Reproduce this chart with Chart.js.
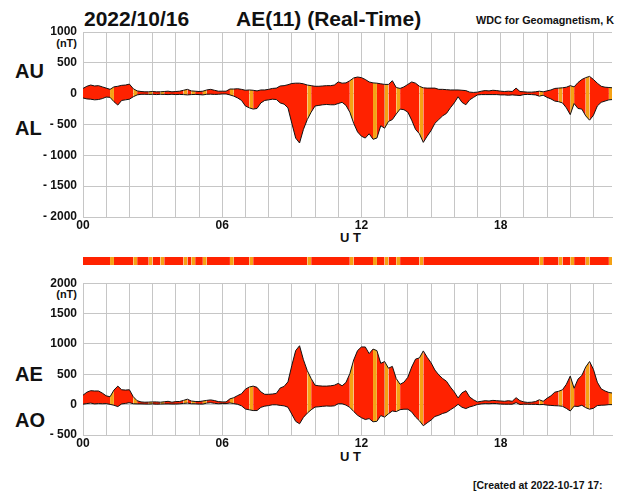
<!DOCTYPE html>
<html>
<head>
<meta charset="utf-8">
<script src="https://cdn.jsdelivr.net/npm/chart.js@4.4.0/dist/chart.umd.min.js"></script>
<style>
  body {
    margin: 0;
    width: 624px;
    height: 495px;
    position: relative;
    overflow: hidden;
    background: #fff;
    font-family: 'Liberation Sans', Arial, sans-serif;
    font-weight: bold;
    color: #111;
  }
  canvas { position: absolute; left: 0; }
  .txt { position: absolute; white-space: nowrap; line-height: 1; }
</style>
</head>
<body>
<div class="txt" style="left:84px; top:8px; font-size:21px;">2022/10/16</div>
<div class="txt" style="left:236px; top:8px; font-size:21px;">AE(11) (Real-Time)</div>
<div class="txt" style="left:476px; top:15px; font-size:10.8px;">WDC for Geomagnetism, K</div>

<div class="txt" style="left:15px; top:61px; font-size:20px;">AU</div>
<div class="txt" style="left:15px; top:118px; font-size:20px;">AL</div>
<div class="txt" style="right:547px; top:38px; font-size:11px;">(nT)</div>
<div class="txt" style="left:340px; top:231px; font-size:13px;">U T</div>

<div class="txt" style="left:15px; top:364px; font-size:20px;">AE</div>
<div class="txt" style="left:15px; top:410px; font-size:20px;">AO</div>
<div class="txt" style="right:547px; top:289px; font-size:11px;">(nT)</div>
<div class="txt" style="left:340px; top:450px; font-size:13px;">U T</div>

<div class="txt" style="left:473px; top:480px; font-size:10.5px;">[Created at 2022-10-17 17:</div>

<canvas id="auAl" width="624" height="240" style="top:0px"></canvas>
<canvas id="status" width="624" height="12" style="top:255px"></canvas>
<canvas id="aeAo" width="624" height="210" style="top:270px"></canvas>

<script>
// 10-minute samples of the upper / lower envelope (nT), starting at 00:00 UT
const stepMinutes = 10;
const AU = [
  85, 120, 140, 125, 130, 110,
  90, 70, 110, 120, 135, 140,
  155, 80, 45, 35, 30, 30,
  35, 30, 30, 35, 40, 30,
  35, 40, 55, 70, 45, 40,
  35, 40, 60, 70, 55, 40,
  40, 40, 75, 75, 80, 70,
  55, 60, 55, 45, 60, 60,
  70, 85, 90, 125, 130, 145,
  165, 170, 170, 160, 140, 130,
  120, 120, 125, 130, 130, 140,
  190, 170, 175, 210, 255, 270,
  260, 230, 190, 175, 170, 160,
  150, 150, 210, 100, 85, 110,
  150, 190, 170, 120, 95, 90,
  90, 90, 70, 70, 65, 60,
  60, 60, 55, 50, 25, 20,
  25, 40, 50, 45, 55, 50,
  40, 35, 40, 35, 90, 35,
  30, 25, 25, 30, 40, 30,
  45, 60, 85, 90, 95, 105,
  130, 110, 180, 230, 260, 280,
  230, 170, 120, 105, 100, 95,
];
const AL = [
  -70, -85, -90, -100, -95, -80,
  -55, -60, -130, -185, -110, -100,
  -90, -50, -20, -10, -10, -12,
  -10, -15, -10, -12, -15, -10,
  -15, -12, -15, -20, -15, -12,
  -15, -20, -10, -8, -12, -10,
  -5, -5, -20, -40, -70, -110,
  -200, -230, -250, -240, -150, -110,
  -100, -90, -95, -150, -170, -230,
  -480, -720, -800, -580, -420, -300,
  -200, -190, -180, -175, -180, -180,
  -160, -140, -190, -300, -480, -620,
  -690, -720, -650, -740, -720, -520,
  -560, -450, -420, -330, -250, -260,
  -300, -430, -580, -650, -790, -690,
  -600, -480, -420, -360, -320, -230,
  -150, -50, -140, -180, -100, -60,
  -20, -15, -15, -15, -15, -15,
  -20, -20, -25, -20, -25, -30,
  -15, -12, -15, -20, -40, -25,
  -60, -85, -120, -130, -150, -230,
  -340, -160, -240, -250, -360, -430,
  -350, -200, -140, -120, -100, -95,
];
// times (UT hours) of the intervals flagged in the status bar
const stripeHours = [1.18, 2.33, 2.97, 3.38, 4.4, 4.78, 5.26, 6.36, 7.33, 9.76,
  11.55, 12.5, 13.12, 13.55, 14.53, 19.7, 20.65, 21.08, 21.7, 22.72];
const hourLabels = ['00', '06', '12', '18'];
const hourGrid = [0, 1, 2, 3, 4, 5, 6, 7, 8, 9, 10, 11, 12, 13, 14, 15, 16, 17, 18, 19, 20, 21, 22];

const RED = '#ff2200';
const ORANGE = '#f5a214';
const GRID = '#c6c6c6';
const INK = '#111';
const tickFont = { family: "'Liberation Sans', Arial, sans-serif", size: 12, weight: 'bold' };

const hours = AU.map((_, i) => (i * stepMinutes) / 60);
// AE = AU - AL, AO = (AU + AL) / 2
const AE = AU.map((u, i) => u - AL[i]);
const AO = AU.map((u, i) => (u + AL[i]) / 2);

const pairs = (values) => values.map((v, i) => ({ x: hours[i], y: v }));
const flagged = (x0, x1) => stripeHours.some((t) => t >= x0 && t < x1);
const stripeSegment = {
  backgroundColor: (ctx) => (flagged(ctx.p0.parsed.x, ctx.p1.parsed.x) ? ORANGE : undefined),
};

function xAxis(height) {
  return {
    type: 'linear',
    min: 0,
    max: 22.8,
    afterFit: (s) => { s.height = height; },
    afterBuildTicks: (s) => { s.ticks = hourGrid.map((h) => ({ value: h })); },
    grid: { color: GRID, drawTicks: false },
    border: { color: GRID },
    ticks: {
      autoSkip: false,
      maxRotation: 0,
      padding: 1,
      color: INK,
      font: tickFont,
      callback: (v) => (v % 6 === 0 ? hourLabels[v / 6] : ''),
    },
  };
}

function yAxis(min, max) {
  return {
    min,
    max,
    afterFit: (s) => { s.width = 83; },
    grid: { color: GRID, drawTicks: false },
    border: { color: GRID },
    ticks: {
      stepSize: 500,
      padding: 6,
      color: INK,
      font: tickFont,
      callback: (v) => (v < 0 ? `- ${-v}` : `${v}`),
    },
  };
}

function bandDatasets(upper, lower) {
  return [{
    data: pairs(upper),
    fill: '+1',
    backgroundColor: RED,
    borderColor: INK,
    borderWidth: 1,
    pointRadius: 0,
    tension: 0,
    segment: stripeSegment,
  }, {
    data: pairs(lower),
    fill: false,
    borderColor: INK,
    borderWidth: 1,
    pointRadius: 0,
    tension: 0,
  }];
}

const baseOptions = {
  responsive: false,
  animation: false,
  plugins: {
    legend: { display: false },
    tooltip: { enabled: false },
    filler: { drawTime: 'beforeDatasetsDraw' },
  },
};

new Chart(document.getElementById('auAl'), {
  type: 'line',
  data: { datasets: bandDatasets(AU, AL) },
  options: {
    ...baseOptions,
    layout: { padding: { top: 32, right: 12, left: 0, bottom: 0 } },
    scales: { x: xAxis(23), y: yAxis(-2000, 1000) },
  },
});

// status bar between the two panels
new Chart(document.getElementById('status'), {
  type: 'line',
  data: {
    datasets: [{
      data: pairs(hours.map(() => 1)),
      fill: 'origin',
      backgroundColor: RED,
      borderWidth: 0,
      pointRadius: 0,
      segment: stripeSegment,
    }],
  },
  options: {
    ...baseOptions,
    layout: { padding: { top: 2, right: 12, left: 83, bottom: 2 } },
    scales: {
      x: { type: 'linear', min: 0, max: 22.8, display: false },
      y: { min: 0, max: 1, display: false },
    },
  },
});

new Chart(document.getElementById('aeAo'), {
  type: 'line',
  data: { datasets: bandDatasets(AE, AO) },
  options: {
    ...baseOptions,
    layout: { padding: { top: 10, right: 12, left: 0, bottom: 0 } },
    scales: { x: xAxis(45), y: yAxis(-500, 2000) },
  },
});
</script>
</body>
</html>
